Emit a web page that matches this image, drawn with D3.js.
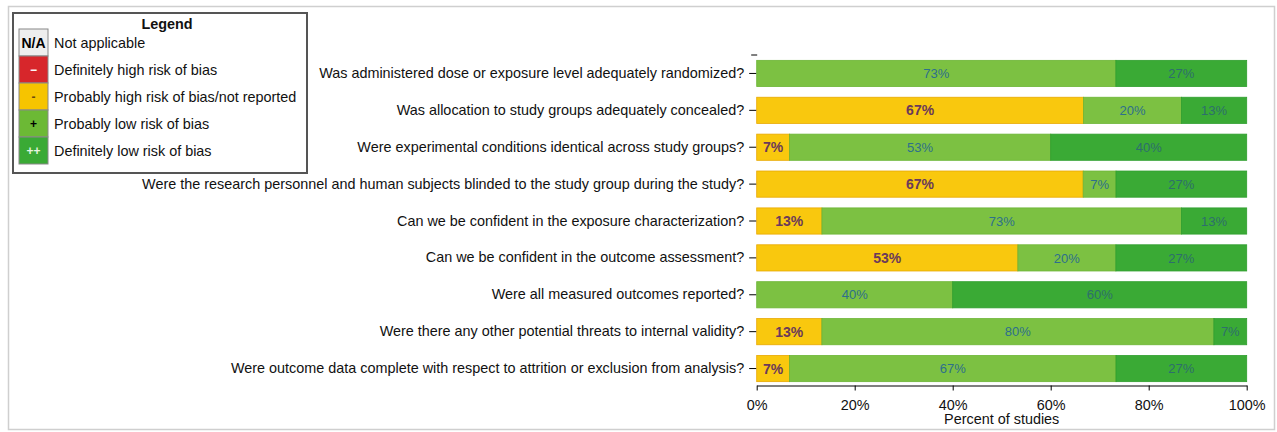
<!DOCTYPE html>
<html><head><meta charset="utf-8">
<script src="https://cdn.jsdelivr.net/npm/d3@7"></script>
<style>
html,body{margin:0;padding:0;background:#fff;}
svg{display:block;font-family:"Liberation Sans",Arial,sans-serif;}
</style></head>
<body>
<svg id="chart" width="1277" height="432"></svg>
<script>
const questions = [
  "Was administered dose or exposure level adequately randomized?",
  "Was allocation to study groups adequately concealed?",
  "Were experimental conditions identical across study groups?",
  "Were the research personnel and human subjects blinded to the study group during the study?",
  "Can we be confident in the exposure characterization?",
  "Can we be confident in the outcome assessment?",
  "Were all measured outcomes reported?",
  "Were there any other potential threats to internal validity?",
  "Were outcome data complete with respect to attrition or exclusion from analysis?"
];
const probablyHigh = [0, 66.7, 6.7, 66.7, 13.3, 53.3, 0, 13.3, 6.7];
const probablyLow  = [73.3, 20, 53.3, 6.7, 73.3, 20, 40, 80, 66.7];
const definitelyLow = [26.7, 13.3, 40, 26.7, 13.3, 26.7, 60, 6.7, 26.7];
const xTicks = [0, 20, 40, 60, 80, 100];
const legendLabels = ["Not applicable", "Definitely high risk of bias", "Probably high risk of bias/not reported", "Probably low risk of bias", "Definitely low risk of bias"];
const legendSymbols = ["N/A", "\u2212", "-", "+", "++"];

const svg = d3.select("#chart");
const font = "'Liberation Sans', Arial, sans-serif";
const fs = 14.4;

// outer frame
svg.append("rect").attr("x", 8.5).attr("y", 6.5).attr("width", 1266).attr("height", 423)
  .attr("fill", "#fff").attr("stroke", "#cfcfcf").attr("stroke-width", 1.5);

const x = d3.scaleLinear().domain([0, 100]).range([756.7, 1246.7]);
const y = d3.scaleBand().domain(questions).range([55, 387]).paddingInner(0.29).paddingOuter(0.145);

const seriesDefs = [
  {key: "ph", vals: probablyHigh, fill: "#f9c80e", stroke: "#e8a800", text: "#6a3a5a", weight: "bold", size: 14},
  {key: "pl", vals: probablyLow, fill: "#7cc142", stroke: "#6cb535", text: "#2d6f8c", weight: "normal", size: 13},
  {key: "dl", vals: definitelyLow, fill: "#3aaa35", stroke: "#2f9e2e", text: "#2d6f6c", weight: "normal", size: 13}
];

const rows = questions.map((q, i) => {
  const total = seriesDefs.reduce((s, d) => s + d.vals[i], 0);
  let acc = 0;
  return seriesDefs.map(d => {
    const v = d.vals[i] / total * 100;
    const seg = {q, x0: acc, x1: acc + v, raw: d.vals[i], def: d};
    acc += v;
    return seg;
  });
}).flat().filter(s => s.raw > 0);

const g = svg.append("g");
g.selectAll("rect.seg").data(rows).join("rect").attr("class", "seg")
  .attr("x", d => x(d.x0)).attr("y", d => y(d.q))
  .attr("width", d => x(d.x1) - x(d.x0)).attr("height", y.bandwidth())
  .attr("fill", d => d.def.fill).attr("stroke", d => d.def.stroke).attr("stroke-width", 0.8);

g.selectAll("text.lab").data(rows).join("text").attr("class", "lab")
  .attr("x", d => x((d.x0 + d.x1) / 2)).attr("y", d => y(d.q) + y.bandwidth() / 2)
  .attr("dy", "0.36em").attr("text-anchor", "middle")
  .attr("font-family", font).attr("font-size", d => d.def.size).attr("font-weight", d => d.def.weight)
  .attr("fill", d => d.def.text)
  .text(d => Math.round(d.raw) + "%");

// y axis
const yAxis = d3.axisLeft(y).tickSize(7).tickPadding(5);
const ya = svg.append("g").attr("transform", `translate(${x(0) - 0.5},0)`).call(yAxis);
ya.select(".domain").remove();
ya.append("line").attr("x1", -5).attr("x2", 1).attr("y1", 55).attr("y2", 55).attr("stroke", "#000");
ya.selectAll(".tick line").attr("stroke", "#000");
ya.selectAll(".tick text").attr("font-family", font).attr("font-size", fs).attr("fill", "#111");

// x axis
const xAxis = d3.axisBottom(x).tickValues(xTicks).tickFormat(d => d + "%").tickSize(5).tickSizeOuter(0).tickPadding(9);
const xa = svg.append("g").attr("transform", "translate(0,385.5)").call(xAxis);
xa.selectAll(".tick text").attr("font-family", font).attr("font-size", fs).attr("fill", "#111");
svg.append("text").attr("x", (x(0) + x(100)) / 2).attr("y", 423.5)
  .attr("text-anchor", "middle").attr("font-family", font).attr("font-size", fs).attr("fill", "#111")
  .text("Percent of studies");

// legend
const lg = svg.append("g");
lg.append("rect").attr("x", 13).attr("y", 13).attr("width", 294).attr("height", 160)
  .attr("fill", "#fff").attr("stroke", "#555").attr("stroke-width", 2);
lg.append("text").attr("x", 167).attr("y", 29).attr("text-anchor", "middle")
  .attr("font-family", font).attr("font-size", fs).attr("font-weight", "bold").attr("fill", "#111").text("Legend");
const swFill = ["#eeeeee", "#d7262b", "#f6c400", "#6cb935", "#3aaa35"];
const swText = ["#000", "#fff", "#6a4a10", "#000", "#e8f5e0"];
const ly = d3.scaleBand().domain(d3.range(5)).range([29, 164]);
const items = lg.selectAll("g.item").data(legendLabels).join("g").attr("class", "item")
  .attr("transform", (d, i) => `translate(0,${ly(i)})`);
items.append("rect").attr("x", 19).attr("y", 0).attr("width", 29).attr("height", ly.bandwidth())
  .attr("fill", (d, i) => swFill[i]).attr("stroke", "#888").attr("stroke-width", 1);
items.append("text").attr("x", 33.5).attr("y", ly.bandwidth() / 2).attr("dy", "0.36em")
  .attr("text-anchor", "middle").attr("font-family", font)
  .attr("font-size", (d, i) => i === 0 ? 14 : 12).attr("font-weight", "bold")
  .attr("fill", (d, i) => swText[i]).text((d, i) => legendSymbols[i]);
items.append("text").attr("x", 54).attr("y", ly.bandwidth() / 2).attr("dy", "0.36em")
  .attr("font-family", font).attr("font-size", fs).attr("fill", "#111").text(d => d);
</script>
</body></html>
